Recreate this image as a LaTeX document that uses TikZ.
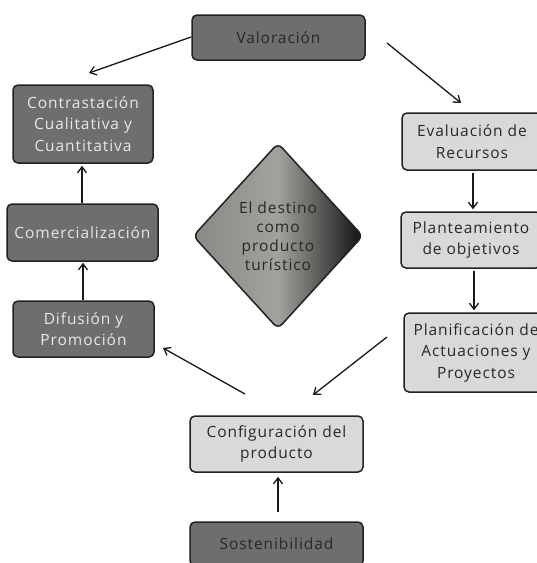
\documentclass[tikz,border=0pt]{standalone}
\usepackage{fontspec}
\setmainfont{Open Sans}[LetterSpace=6]
\usetikzlibrary{arrows.meta,shapes.geometric}
\definecolor{darkfill}{RGB}{110,110,110}
\definecolor{lightfill}{RGB}{217,217,217}
\definecolor{edge}{RGB}{34,34,34}
\definecolor{lighttext}{RGB}{232,232,232}
\definecolor{darktext}{RGB}{40,40,40}
\definecolor{dleft}{RGB}{135,138,132}
\definecolor{dmid}{RGB}{160,163,156}
\definecolor{dright}{RGB}{18,18,18}
\tikzset{
  box/.style={draw=edge, line width=1.5pt, rounded corners=5pt, align=center,
    inner sep=0pt, font=\fontsize{15.5}{21.5}\selectfont},
  darkbox/.style={box, fill=darkfill, text=lighttext},
  darkboxd/.style={box, fill=darkfill, text=darktext},
  lightbox/.style={box, fill=lightfill, text=darktext},
  conn/.style={draw=black!90, line width=1.3pt, -{Straight Barb[length=6pt,width=9pt]}},
}
\begin{document}
\begin{tikzpicture}[x=1pt,y=-1pt]
\clip (0,0) rectangle (537,563);
\fill[white] (0,0) rectangle (537,563);
% nodes
\node[darkboxd, minimum width=173pt, minimum height=45pt] (val) at (278.5,37.5) {Valoración};
\node[darkbox, minimum width=140pt, minimum height=78pt] (con) at (83,124) {Contrastación\\Cualitativa y\\Cuantitativa};
\node[darkbox, minimum width=151pt, minimum height=57pt] (com) at (82.5,232.5) {Comercialización};
\node[darkbox, minimum width=141pt, minimum height=56pt] (dif) at (83.5,329) {Difusión y\\Promoción};
\node[lightbox, minimum width=140pt, minimum height=57pt] (eva) at (472,141.5) {Evaluación de\\Recursos};
\node[lightbox, minimum width=140pt, minimum height=56pt] (pla) at (471,240) {Planteamiento\\de objetivos};
\node[lightbox, minimum width=144pt, minimum height=79pt] (pli) at (476,352.5) {Planificación de\\Actuaciones y\\Proyectos};
\node[lightbox, minimum width=173pt, minimum height=56pt] (cfg) at (276.5,444) {Configuración del\\producto};
\node[darkboxd, minimum width=173pt, minimum height=44pt] (sos) at (276.5,544) {Sostenibilidad};
\node[diamond, draw=edge, line width=1.5pt, rounded corners=6pt, inner sep=0pt,
  minimum width=170pt, minimum height=186pt, left color=dleft, right color=dright, middle color=dmid,
  align=center, text=darktext, font=\fontsize{15.5}{19}\selectfont] (dest) at (278,236)
  {El destino\\como\\producto\\turístico};
% free ends of the diagonal connectors
\coordinate (v1s) at (191,37);
\coordinate (v1e) at (89,73);
\coordinate (v2s) at (387,43);
\coordinate (v2e) at (461,103);
\coordinate (p1s) at (387,337);
\coordinate (p1e) at (313,395);
\coordinate (c1s) at (245,394);
\coordinate (c1e) at (163,348);
% connectors
\draw[conn] (v1s) -- (v1e);
\draw[conn] (v2s) -- (v2e);
\draw[conn] (p1s) -- (p1e);
\draw[conn] (c1s) -- (c1e);
\draw[conn, shorten <=2pt, shorten >=2pt] (eva.south -| 473,0) -- (pla.north -| 473,0);
\draw[conn, shorten <=2pt, shorten >=2pt] (pla.south -| 474,0) -- (pli.north -| 474,0);
\draw[conn, shorten <=0pt, shorten >=2pt] (com.north -| 82,0) -- (con.south -| 82,0);
\draw[conn, shorten <=0pt, shorten >=1pt] (dif.north -| 83,0) -- (com.south -| 83,0);
\draw[conn, shorten <=9pt, shorten >=4pt] (sos.north -| 278,0) -- (cfg.south -| 278,0);
\end{tikzpicture}
\end{document}
